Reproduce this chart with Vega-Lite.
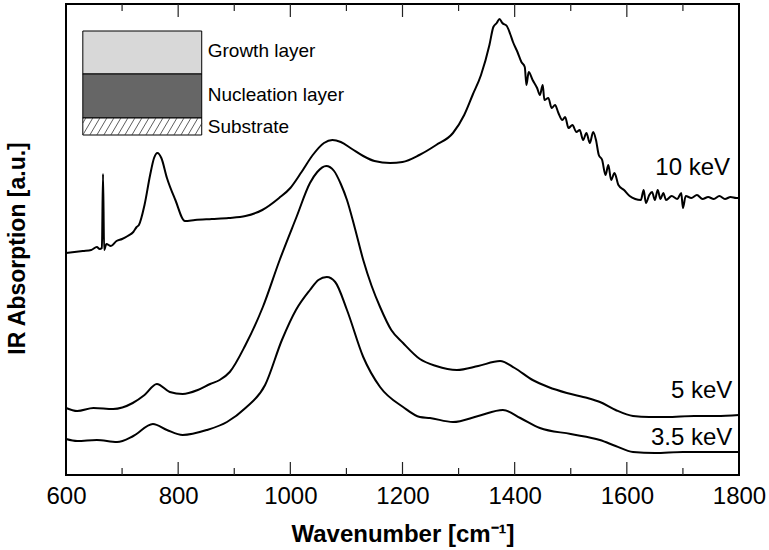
{
  "$schema": "https://vega.github.io/schema/vega-lite/v6.json",
  "width": 673,
  "height": 471,
  "autosize": {"type": "none"},
  "padding": {"left": 66, "top": 4, "right": 30, "bottom": 75},
  "background": "white",
  "config": {
    "view": {"stroke": "black", "strokeWidth": 2},
    "font": "Liberation Sans",
    "axis": {"grid": false}
  },
  "datasets": {
    "spectra": [
      {"wn": 600, "a": 222, "s": "10 keV"}, {"wn": 615, "a": 223, "s": "10 keV"}, {"wn": 630, "a": 224, "s": "10 keV"},
      {"wn": 645, "a": 225, "s": "10 keV"}, {"wn": 655, "a": 228, "s": "10 keV"}, {"wn": 660, "a": 226, "s": "10 keV"},
      {"wn": 664, "a": 227, "s": "10 keV"}, {"wn": 666, "a": 301, "s": "10 keV"}, {"wn": 668, "a": 225, "s": "10 keV"},
      {"wn": 672, "a": 231, "s": "10 keV"}, {"wn": 680, "a": 229, "s": "10 keV"}, {"wn": 690, "a": 234, "s": "10 keV"},
      {"wn": 700, "a": 236, "s": "10 keV"}, {"wn": 710, "a": 239, "s": "10 keV"}, {"wn": 720, "a": 243, "s": "10 keV"},
      {"wn": 726, "a": 248, "s": "10 keV"}, {"wn": 730, "a": 250, "s": "10 keV"}, {"wn": 740, "a": 270, "s": "10 keV"},
      {"wn": 750, "a": 300, "s": "10 keV"}, {"wn": 757, "a": 317, "s": "10 keV"}, {"wn": 763, "a": 322, "s": "10 keV"},
      {"wn": 770, "a": 317, "s": "10 keV"}, {"wn": 780, "a": 297, "s": "10 keV"}, {"wn": 795, "a": 275, "s": "10 keV"},
      {"wn": 812, "a": 254, "s": "10 keV"}, {"wn": 830, "a": 255, "s": "10 keV"}, {"wn": 860, "a": 256, "s": "10 keV"},
      {"wn": 890, "a": 257, "s": "10 keV"}, {"wn": 920, "a": 259, "s": "10 keV"}, {"wn": 950, "a": 265, "s": "10 keV"},
      {"wn": 980, "a": 277, "s": "10 keV"}, {"wn": 1000, "a": 287, "s": "10 keV"}, {"wn": 1020, "a": 303, "s": "10 keV"},
      {"wn": 1040, "a": 320, "s": "10 keV"}, {"wn": 1060, "a": 332, "s": "10 keV"}, {"wn": 1075, "a": 335, "s": "10 keV"},
      {"wn": 1090, "a": 333, "s": "10 keV"}, {"wn": 1110, "a": 326, "s": "10 keV"}, {"wn": 1130, "a": 319, "s": "10 keV"},
      {"wn": 1150, "a": 314, "s": "10 keV"}, {"wn": 1178, "a": 312, "s": "10 keV"}, {"wn": 1200, "a": 313, "s": "10 keV"},
      {"wn": 1230, "a": 320, "s": "10 keV"}, {"wn": 1260, "a": 330, "s": "10 keV"}, {"wn": 1290, "a": 342, "s": "10 keV"},
      {"wn": 1310, "a": 360, "s": "10 keV"}, {"wn": 1325, "a": 380, "s": "10 keV"}, {"wn": 1340, "a": 400, "s": "10 keV"},
      {"wn": 1355, "a": 430, "s": "10 keV"}, {"wn": 1362, "a": 448, "s": "10 keV"}, {"wn": 1368, "a": 452, "s": "10 keV"},
      {"wn": 1373, "a": 456, "s": "10 keV"}, {"wn": 1378, "a": 452, "s": "10 keV"}, {"wn": 1386, "a": 449, "s": "10 keV"},
      {"wn": 1392, "a": 441, "s": "10 keV"}, {"wn": 1397, "a": 433, "s": "10 keV"}, {"wn": 1405, "a": 423, "s": "10 keV"},
      {"wn": 1412, "a": 413, "s": "10 keV"}, {"wn": 1418, "a": 408, "s": "10 keV"}, {"wn": 1421, "a": 390, "s": "10 keV"},
      {"wn": 1425, "a": 403, "s": "10 keV"}, {"wn": 1432, "a": 395, "s": "10 keV"}, {"wn": 1440, "a": 387, "s": "10 keV"},
      {"wn": 1445, "a": 380, "s": "10 keV"}, {"wn": 1450, "a": 390, "s": "10 keV"}, {"wn": 1453, "a": 375, "s": "10 keV"},
      {"wn": 1460, "a": 377, "s": "10 keV"}, {"wn": 1466, "a": 367, "s": "10 keV"}, {"wn": 1472, "a": 370, "s": "10 keV"},
      {"wn": 1478, "a": 362, "s": "10 keV"}, {"wn": 1485, "a": 355, "s": "10 keV"}, {"wn": 1490, "a": 358, "s": "10 keV"},
      {"wn": 1496, "a": 347, "s": "10 keV"}, {"wn": 1503, "a": 350, "s": "10 keV"}, {"wn": 1510, "a": 343, "s": "10 keV"},
      {"wn": 1516, "a": 345, "s": "10 keV"}, {"wn": 1522, "a": 335, "s": "10 keV"}, {"wn": 1528, "a": 342, "s": "10 keV"},
      {"wn": 1534, "a": 332, "s": "10 keV"}, {"wn": 1540, "a": 343, "s": "10 keV"}, {"wn": 1545, "a": 335, "s": "10 keV"},
      {"wn": 1550, "a": 320, "s": "10 keV"}, {"wn": 1556, "a": 315, "s": "10 keV"}, {"wn": 1562, "a": 300, "s": "10 keV"},
      {"wn": 1567, "a": 310, "s": "10 keV"}, {"wn": 1572, "a": 295, "s": "10 keV"}, {"wn": 1578, "a": 302, "s": "10 keV"},
      {"wn": 1585, "a": 290, "s": "10 keV"}, {"wn": 1595, "a": 285, "s": "10 keV"}, {"wn": 1605, "a": 279, "s": "10 keV"},
      {"wn": 1615, "a": 276, "s": "10 keV"}, {"wn": 1625, "a": 275, "s": "10 keV"}, {"wn": 1630, "a": 285, "s": "10 keV"},
      {"wn": 1634, "a": 272, "s": "10 keV"}, {"wn": 1640, "a": 280, "s": "10 keV"}, {"wn": 1645, "a": 283, "s": "10 keV"},
      {"wn": 1650, "a": 275, "s": "10 keV"}, {"wn": 1655, "a": 285, "s": "10 keV"}, {"wn": 1660, "a": 276, "s": "10 keV"},
      {"wn": 1665, "a": 282, "s": "10 keV"}, {"wn": 1670, "a": 275, "s": "10 keV"}, {"wn": 1680, "a": 279, "s": "10 keV"},
      {"wn": 1690, "a": 276, "s": "10 keV"}, {"wn": 1697, "a": 282, "s": "10 keV"}, {"wn": 1700, "a": 267, "s": "10 keV"},
      {"wn": 1705, "a": 279, "s": "10 keV"}, {"wn": 1715, "a": 277, "s": "10 keV"}, {"wn": 1725, "a": 280, "s": "10 keV"},
      {"wn": 1735, "a": 276, "s": "10 keV"}, {"wn": 1745, "a": 278, "s": "10 keV"}, {"wn": 1755, "a": 276, "s": "10 keV"},
      {"wn": 1765, "a": 279, "s": "10 keV"}, {"wn": 1775, "a": 276, "s": "10 keV"}, {"wn": 1785, "a": 278, "s": "10 keV"},
      {"wn": 1795, "a": 277, "s": "10 keV"}, {"wn": 1800, "a": 277, "s": "10 keV"},

      {"wn": 600, "a": 67, "s": "5 keV"}, {"wn": 620, "a": 64, "s": "5 keV"}, {"wn": 649, "a": 67, "s": "5 keV"},
      {"wn": 684, "a": 66, "s": "5 keV"}, {"wn": 719, "a": 72, "s": "5 keV"}, {"wn": 740, "a": 80, "s": "5 keV"},
      {"wn": 762, "a": 91, "s": "5 keV"}, {"wn": 785, "a": 83, "s": "5 keV"}, {"wn": 808, "a": 81, "s": "5 keV"},
      {"wn": 835, "a": 85, "s": "5 keV"}, {"wn": 857, "a": 91, "s": "5 keV"}, {"wn": 874, "a": 95, "s": "5 keV"},
      {"wn": 892, "a": 103, "s": "5 keV"}, {"wn": 920, "a": 130, "s": "5 keV"}, {"wn": 951, "a": 168, "s": "5 keV"},
      {"wn": 981, "a": 215, "s": "5 keV"}, {"wn": 1011, "a": 258, "s": "5 keV"}, {"wn": 1035, "a": 292, "s": "5 keV"},
      {"wn": 1048, "a": 303, "s": "5 keV"}, {"wn": 1064, "a": 309, "s": "5 keV"}, {"wn": 1078, "a": 304, "s": "5 keV"},
      {"wn": 1090, "a": 291, "s": "5 keV"}, {"wn": 1101, "a": 275, "s": "5 keV"}, {"wn": 1115, "a": 247, "s": "5 keV"},
      {"wn": 1130, "a": 215, "s": "5 keV"}, {"wn": 1145, "a": 189, "s": "5 keV"}, {"wn": 1160, "a": 168, "s": "5 keV"},
      {"wn": 1180, "a": 145, "s": "5 keV"}, {"wn": 1201, "a": 132, "s": "5 keV"}, {"wn": 1231, "a": 116, "s": "5 keV"},
      {"wn": 1260, "a": 109, "s": "5 keV"}, {"wn": 1297, "a": 105, "s": "5 keV"}, {"wn": 1335, "a": 109, "s": "5 keV"},
      {"wn": 1374, "a": 114, "s": "5 keV"}, {"wn": 1400, "a": 107, "s": "5 keV"}, {"wn": 1432, "a": 95, "s": "5 keV"},
      {"wn": 1460, "a": 88, "s": "5 keV"}, {"wn": 1493, "a": 82, "s": "5 keV"}, {"wn": 1530, "a": 77, "s": "5 keV"},
      {"wn": 1552, "a": 73, "s": "5 keV"}, {"wn": 1580, "a": 65, "s": "5 keV"}, {"wn": 1611, "a": 59, "s": "5 keV"},
      {"wn": 1640, "a": 58, "s": "5 keV"}, {"wn": 1671, "a": 58, "s": "5 keV"}, {"wn": 1720, "a": 59, "s": "5 keV"},
      {"wn": 1760, "a": 59, "s": "5 keV"}, {"wn": 1800, "a": 60, "s": "5 keV"},

      {"wn": 600, "a": 36, "s": "3.5 keV"}, {"wn": 620, "a": 34, "s": "3.5 keV"}, {"wn": 655, "a": 35, "s": "3.5 keV"},
      {"wn": 691, "a": 33, "s": "3.5 keV"}, {"wn": 720, "a": 39, "s": "3.5 keV"}, {"wn": 755, "a": 51, "s": "3.5 keV"},
      {"wn": 780, "a": 45, "s": "3.5 keV"}, {"wn": 808, "a": 40, "s": "3.5 keV"}, {"wn": 851, "a": 45, "s": "3.5 keV"},
      {"wn": 887, "a": 53, "s": "3.5 keV"}, {"wn": 920, "a": 67, "s": "3.5 keV"}, {"wn": 955, "a": 90, "s": "3.5 keV"},
      {"wn": 985, "a": 135, "s": "3.5 keV"}, {"wn": 1010, "a": 165, "s": "3.5 keV"}, {"wn": 1035, "a": 185, "s": "3.5 keV"},
      {"wn": 1050, "a": 195, "s": "3.5 keV"}, {"wn": 1065, "a": 198, "s": "3.5 keV"}, {"wn": 1080, "a": 193, "s": "3.5 keV"},
      {"wn": 1101, "a": 165, "s": "3.5 keV"}, {"wn": 1130, "a": 118, "s": "3.5 keV"}, {"wn": 1160, "a": 88, "s": "3.5 keV"},
      {"wn": 1201, "a": 68, "s": "3.5 keV"}, {"wn": 1231, "a": 58, "s": "3.5 keV"}, {"wn": 1249, "a": 57, "s": "3.5 keV"},
      {"wn": 1290, "a": 53, "s": "3.5 keV"}, {"wn": 1335, "a": 59, "s": "3.5 keV"}, {"wn": 1379, "a": 65, "s": "3.5 keV"},
      {"wn": 1410, "a": 57, "s": "3.5 keV"}, {"wn": 1445, "a": 47, "s": "3.5 keV"}, {"wn": 1500, "a": 41, "s": "3.5 keV"},
      {"wn": 1552, "a": 35, "s": "3.5 keV"}, {"wn": 1580, "a": 29, "s": "3.5 keV"}, {"wn": 1611, "a": 23, "s": "3.5 keV"},
      {"wn": 1650, "a": 22, "s": "3.5 keV"}, {"wn": 1700, "a": 23, "s": "3.5 keV"}, {"wn": 1800, "a": 23, "s": "3.5 keV"}
    ],
    "curveLabels": [
      {"t": "10 keV", "x": 1784, "y": 307},
      {"t": "5 keV", "x": 1788, "y": 84},
      {"t": "3.5 keV", "x": 1788, "y": 37.5}
    ],
    "layers": [
      {"layer": "Growth layer", "x1": 630, "x2": 842, "y1": 401, "y2": 444, "ly": 424},
      {"layer": "Nucleation layer", "x1": 630, "x2": 842, "y1": 357, "y2": 401, "ly": 380},
      {"layer": "Substrate", "x1": 630, "x2": 842, "y1": 340, "y2": 357, "ly": 348}
    ],
    "hatch": [
      {"x1": 630, "y1": 351.9, "x2": 635.3, "y2": 357},
      {"x1": 630, "y1": 340, "x2": 647.8, "y2": 357},
      {"x1": 642.5, "y1": 340, "x2": 660.3, "y2": 357},
      {"x1": 655, "y1": 340, "x2": 672.8, "y2": 357},
      {"x1": 667.5, "y1": 340, "x2": 685.3, "y2": 357},
      {"x1": 680, "y1": 340, "x2": 697.8, "y2": 357},
      {"x1": 692.5, "y1": 340, "x2": 710.3, "y2": 357},
      {"x1": 705, "y1": 340, "x2": 722.8, "y2": 357},
      {"x1": 717.5, "y1": 340, "x2": 735.3, "y2": 357},
      {"x1": 730, "y1": 340, "x2": 747.8, "y2": 357},
      {"x1": 742.5, "y1": 340, "x2": 760.3, "y2": 357},
      {"x1": 755, "y1": 340, "x2": 772.8, "y2": 357},
      {"x1": 767.5, "y1": 340, "x2": 785.3, "y2": 357},
      {"x1": 780, "y1": 340, "x2": 797.8, "y2": 357},
      {"x1": 792.5, "y1": 340, "x2": 810.3, "y2": 357},
      {"x1": 805, "y1": 340, "x2": 822.8, "y2": 357},
      {"x1": 817.5, "y1": 340, "x2": 835.3, "y2": 357},
      {"x1": 830, "y1": 340, "x2": 842, "y2": 351.5}
    ],
    "ticks": [
      {"v": 700, "kind": "minor"}, {"v": 800, "kind": "major"}, {"v": 900, "kind": "minor"},
      {"v": 1000, "kind": "major"}, {"v": 1100, "kind": "minor"}, {"v": 1200, "kind": "major"},
      {"v": 1300, "kind": "minor"}, {"v": 1400, "kind": "major"}, {"v": 1500, "kind": "minor"},
      {"v": 1600, "kind": "major"}, {"v": 1700, "kind": "minor"}
    ]
  },
  "layer": [
    {
      "data": {"name": "layers"},
      "mark": {"type": "rect", "stroke": "black", "strokeWidth": 1},
      "encoding": {
        "x": {"field": "x1", "type": "quantitative", "scale": {"domain": [600, 1800], "nice": false}, "axis": null},
        "x2": {"field": "x2"},
        "y": {"field": "y1", "type": "quantitative", "scale": {"domain": [0, 471], "nice": false, "zero": false}, "axis": null},
        "y2": {"field": "y2"},
        "fill": {"field": "layer", "type": "nominal", "legend": null,
          "scale": {"domain": ["Growth layer", "Nucleation layer", "Substrate"], "range": ["#d8d8d8", "#666666", "#ffffff"]}}
      }
    },
    {
      "data": {"name": "hatch"},
      "mark": {"type": "rule", "color": "#333333", "strokeWidth": 0.8},
      "encoding": {
        "x": {"field": "x1", "type": "quantitative", "axis": null},
        "x2": {"field": "x2"},
        "y": {"field": "y1", "type": "quantitative", "axis": null},
        "y2": {"field": "y2"}
      }
    },
    {
      "data": {"name": "ticks"},
      "transform": [{"filter": "datum.kind === 'major'"}],
      "mark": {"type": "rule", "color": "#222222", "strokeWidth": 1.2},
      "encoding": {
        "x": {"field": "v", "type": "quantitative", "axis": null},
        "y": {"datum": 0, "type": "quantitative", "axis": null},
        "y2": {"datum": 13}
      }
    },
    {
      "data": {"name": "ticks"},
      "transform": [{"filter": "datum.kind === 'major'"}],
      "mark": {"type": "rule", "color": "#222222", "strokeWidth": 1.2},
      "encoding": {
        "x": {"field": "v", "type": "quantitative", "axis": null},
        "y": {"datum": 458, "type": "quantitative", "axis": null},
        "y2": {"datum": 471}
      }
    },
    {
      "data": {"name": "ticks"},
      "transform": [{"filter": "datum.kind === 'minor'"}],
      "mark": {"type": "rule", "color": "#222222", "strokeWidth": 1.2},
      "encoding": {
        "x": {"field": "v", "type": "quantitative", "axis": null},
        "y": {"datum": 0, "type": "quantitative", "axis": null},
        "y2": {"datum": 7}
      }
    },
    {
      "data": {"name": "ticks"},
      "transform": [{"filter": "datum.kind === 'minor'"}],
      "mark": {"type": "rule", "color": "#222222", "strokeWidth": 1.2},
      "encoding": {
        "x": {"field": "v", "type": "quantitative", "axis": null},
        "y": {"datum": 464, "type": "quantitative", "axis": null},
        "y2": {"datum": 471}
      }
    },
    {
      "data": {"name": "layers"},
      "mark": {"type": "text", "align": "left", "baseline": "middle", "fontSize": 19, "color": "black", "dx": 6},
      "encoding": {
        "x": {"field": "x2", "type": "quantitative", "axis": null},
        "y": {"field": "ly", "type": "quantitative", "axis": null},
        "text": {"field": "layer"}
      }
    },
    {
      "data": {"name": "spectra"},
      "mark": {"type": "line", "color": "black", "strokeWidth": 2, "interpolate": "monotone"},
      "encoding": {
        "x": {
          "field": "wn", "type": "quantitative",
          "axis": {
            "orient": "bottom", "values": [600, 800, 1000, 1200, 1400, 1600, 1800],
            "format": "d", "domain": false, "ticks": false,
            "labelFontSize": 24, "labelColor": "black", "labelPadding": 9,
            "labelFlush": false, "labelOverlap": false,
            "title": "Wavenumber [cm⁻¹]", "titleFontSize": 24, "titleFontWeight": "bold", "titleColor": "black", "titlePadding": 14
          }
        },
        "y": {
          "field": "a", "type": "quantitative",
          "axis": {
            "ticks": false, "labels": false, "domain": false,
            "title": "IR Absorption [a.u.]", "titleFontSize": 23, "titleFontWeight": "bold", "titleColor": "black",
            "titlePadding": 37, "titleY": 244
          }
        },
        "detail": {"field": "s", "type": "nominal"}
      }
    },
    {
      "data": {"name": "curveLabels"},
      "mark": {"type": "text", "align": "right", "baseline": "middle", "fontSize": 24, "color": "black"},
      "encoding": {
        "x": {"field": "x", "type": "quantitative", "axis": null},
        "y": {"field": "y", "type": "quantitative", "axis": null},
        "text": {"field": "t"}
      }
    }
  ],
  "resolve": {"axis": {"x": "independent", "y": "independent"}}
}
